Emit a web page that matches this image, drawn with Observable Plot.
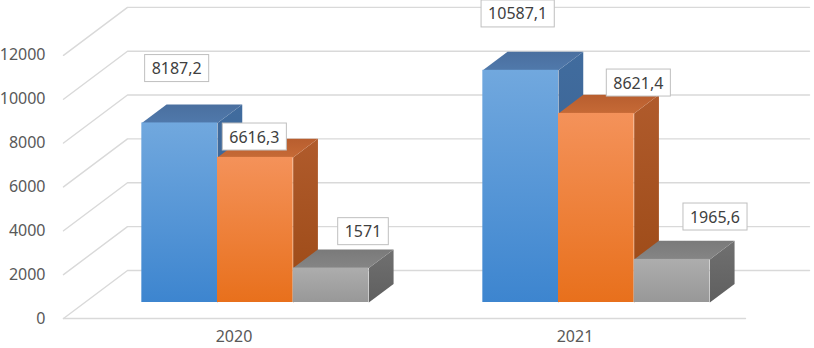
<!DOCTYPE html>
<html><head><meta charset="utf-8">
<script src="https://cdn.jsdelivr.net/npm/d3@7"></script>
<script src="https://cdn.jsdelivr.net/npm/@observablehq/plot@0.6"></script>
<style>
body{margin:0;background:#fff}
#chart{width:814px;height:348px}
</style>
</head><body>
<svg width="0" height="0" style="position:absolute">
<defs>
 <linearGradient id="gBlueFront" x1="0" y1="0" x2="0" y2="1"><stop offset="0" stop-color="#71a8de"/><stop offset="1" stop-color="#3d85cf"/></linearGradient>
 <linearGradient id="gBlueSide" x1="0" y1="0" x2="0" y2="1"><stop offset="0" stop-color="#416c9e"/><stop offset="1" stop-color="#355e8e"/></linearGradient>
 <linearGradient id="gBlueTop" x1="0" y1="0" x2="0" y2="1"><stop offset="0" stop-color="#4a6f9f"/><stop offset="1" stop-color="#5079ab"/></linearGradient>
 <linearGradient id="gOrangeFront" x1="0" y1="0" x2="0" y2="1"><stop offset="0" stop-color="#f4925a"/><stop offset="1" stop-color="#e8701c"/></linearGradient>
 <linearGradient id="gOrangeSide" x1="0" y1="0" x2="0" y2="1"><stop offset="0" stop-color="#b05b2c"/><stop offset="1" stop-color="#9b4915"/></linearGradient>
 <linearGradient id="gOrangeTop" x1="0" y1="0" x2="0" y2="1"><stop offset="0" stop-color="#b85e2f"/><stop offset="1" stop-color="#c66a36"/></linearGradient>
 <linearGradient id="gGrayFront" x1="0" y1="0" x2="0" y2="1"><stop offset="0" stop-color="#adadad"/><stop offset="1" stop-color="#989898"/></linearGradient>
 <linearGradient id="gGraySide" x1="0" y1="0" x2="0" y2="1"><stop offset="0" stop-color="#707070"/><stop offset="1" stop-color="#5f5f5f"/></linearGradient>
 <linearGradient id="gGrayTop" x1="0" y1="0" x2="0" y2="1"><stop offset="0" stop-color="#7a7a7a"/><stop offset="1" stop-color="#858585"/></linearGradient>
</defs>
</svg>
<div id="chart"></div>
<script>
// ---- data ----
const categories = ["2020", "2021"];
const series1 = [8187.2, 10587.1];
const series2 = [6616.3, 8621.4];
const series3 = [1571, 1965.6];
const yTicks = [0, 2000, 4000, 6000, 8000, 10000, 12000];

// ---- layout / style (not data) ----
const W = 814, H = 348, mL = 63, mR = 69, mT = 0, mB = 30;
const yMax = 14500;
const pxPerX = (W - mL - mR) / categories.length;
const pxPerY = (H - mT - mB) / yMax;
const DX = 64 / pxPerX;       // depth offset in x units at full depth
const DY = 48 / pxPerY;       // depth offset in value units at full depth
const d0 = 1 / 3, d1 = 0.72;  // bar front/back depth
const barW = 0.2219;
// manual label nudges in px [dx, dy], per series then category
const labelNudge = [[[-3, -54], [-3, -56]], [[-1, -20], [42, -30]], [[32, -36], [43, -42]]];
const seriesStyle = [
  {front: "url(#gBlueFront)", side: "url(#gBlueSide)", top: "url(#gBlueTop)"},
  {front: "url(#gOrangeFront)", side: "url(#gOrangeSide)", top: "url(#gOrangeTop)"},
  {front: "url(#gGrayFront)", side: "url(#gGraySide)", top: "url(#gGrayTop)"}
];

const allSeries = [series1, series2, series3];
const P = (x, v, d) => ({x: x + d * DX, y: v + d * DY});

// gridlines
const grid = [];
yTicks.forEach(v => {
  [P(0, v, 0), P(0, v, 1), P(categories.length, v, 1)].forEach(p => grid.push({...p, id: "g" + v}));
});
grid.push({...P(0, 0, 0), id: "floor"}, {...P(categories.length, 0, 0), id: "floor"});

const marks = [Plot.line(grid, {x: "x", y: "y", z: "id", stroke: "#d9d9d9", strokeWidth: 1.4})];
const labels = [];
allSeries.forEach((vals, s) => {
  const fronts = [], tops = [], sides = [];
  vals.forEach((v, c) => {
    const xL = c + 0.5 + (s - 1.5) * barW, xR = xL + barW;
    fronts.push({x1: xL + d0 * DX, x2: xR + d0 * DX, y1: d0 * DY, y2: v + d0 * DY});
    [P(xL, v, d0), P(xR, v, d0), P(xR, v, d1), P(xL, v, d1)].forEach(p => tops.push({...p, id: c}));
    [P(xR, 0, d0), P(xR, v, d0), P(xR, v, d1), P(xR, 0, d1)].forEach(p => sides.push({...p, id: c}));
    const [nx, ny] = labelNudge[s][c];
    labels.push({x: (xL + xR) / 2 + d0 * DX + nx / pxPerX, y: v + d0 * DY - ny / pxPerY,
                 text: String(v).replace(".", ",")});
  });
  marks.push(
    Plot.line(sides, {x: "x", y: "y", z: "id", fill: seriesStyle[s].side, stroke: "none", curve: "linear-closed"}),
    Plot.line(tops, {x: "x", y: "y", z: "id", fill: seriesStyle[s].top, stroke: "none", curve: "linear-closed"}),
    Plot.rect(fronts, {x1: "x1", x2: "x2", y1: "y1", y2: "y2", fill: seriesStyle[s].front})
  );
});
marks.push(
  Plot.text(labels, {x: "x", y: "y", text: "text", fill: "#404040", fontSize: 16, lineAnchor: "middle", className: "lbl"}),
  Plot.axisY({ticks: yTicks, tickSize: 0, tickPadding: 18, tickFormat: d => String(d), fontSize: 16, color: "#595959", label: null}),
  Plot.axisX({ticks: categories.map((_, i) => i + 0.5), tickSize: 0, tickPadding: 12,
              tickFormat: d => categories[Math.floor(d)], fontSize: 16, color: "#595959", label: null})
);

const plot = Plot.plot({
  width: W, height: H, marginLeft: mL, marginRight: mR, marginTop: mT, marginBottom: mB,
  x: {domain: [0, categories.length]},
  y: {domain: [0, yMax]},
  style: {fontFamily: "'Noto Sans', sans-serif", background: "#fff", overflow: "visible"},
  marks
});
document.getElementById("chart").append(plot);

// draw boxes behind data labels
const ns = "http://www.w3.org/2000/svg";
plot.querySelectorAll("g.lbl text").forEach(t => {
  const b = t.getBBox();
  const r = document.createElementNS(ns, "rect");
  r.setAttribute("x", b.x - 7);
  r.setAttribute("y", b.y - 2.5);
  r.setAttribute("width", b.width + 14);
  r.setAttribute("height", b.height + 5);
  r.setAttribute("fill", "#fff");
  r.setAttribute("stroke", "#bfbfbf");
  r.setAttribute("stroke-width", "1");
  if (t.getAttribute("transform")) r.setAttribute("transform", t.getAttribute("transform"));
  t.parentNode.insertBefore(r, t);
});
</script>
</body></html>
